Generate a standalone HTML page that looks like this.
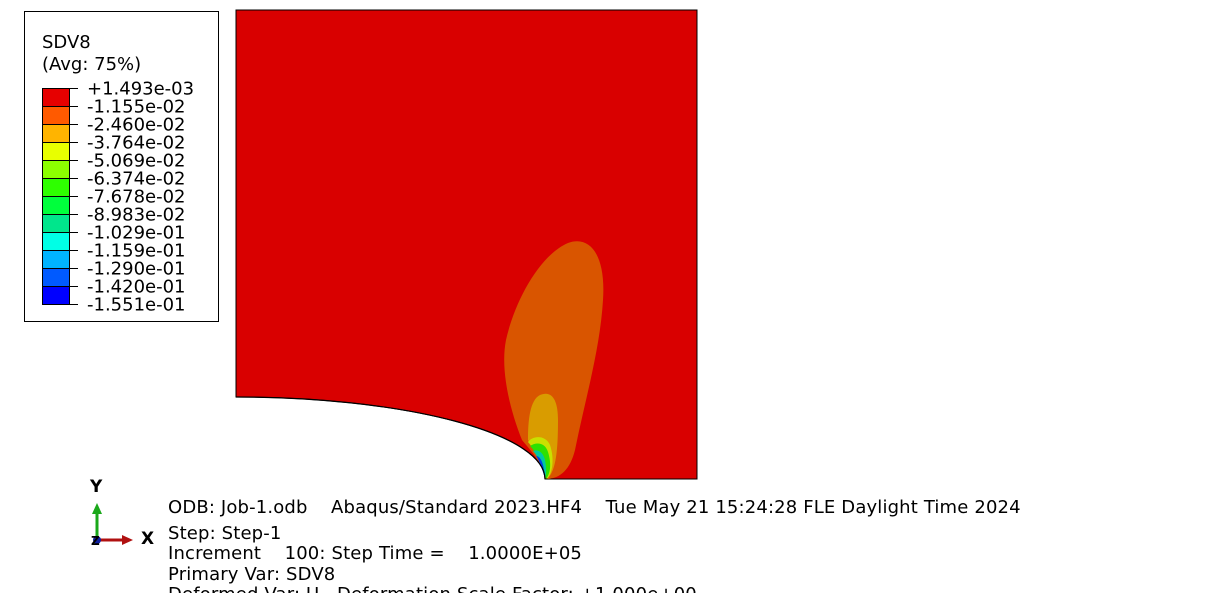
<!DOCTYPE html>
<html><head><meta charset="utf-8"><style>
body{margin:0;background:#fff;width:1224px;height:593px;overflow:hidden}
svg text{font-family:"DejaVu Sans","Liberation Sans",sans-serif;font-size:18px;fill:#000}
</style></head><body>
<svg width="1224" height="593">
<g>
<rect x="24.5" y="11.5" width="194" height="310" fill="#fff" stroke="#000"/>
<text x="42" y="48">SDV8</text>
<text x="42" y="70">(Avg: 75%)</text>
<g id="bands"></g>
</g>
<g>
<path d="M236,10 H697 V479 H545 A309,82 0 0 0 236,397 Z" fill="#d90000" stroke="#000" stroke-width="1"/>
<path d="M522,440 C510,410 500,370 506,340 C515,300 540,255 568,243 C590,235 606,255 603,300 C600,350 585,400 575,450 C570,470 560,478 548,479 C540,460 530,450 522,440 Z" fill="#d95500"/>
<path d="M528,440 C528,420 530,400 540,395 C552,390 558,400 558,420 C558,450 556,470 548,478 C540,462 535,450 528,440 Z" fill="#d99c00"/>
<path d="M528,442 C532,436 545,434 550,445 C555,460 552,474 547,479 C542,462 535,450 528,442 Z" fill="#c9e000"/>
<path d="M530,446 C536,442 545,442 548,452 C552,465 550,474 546,479 C542,464 536,452 530,446 Z" fill="#2ee000"/>
<path d="M533,451 C538,449 543,452 545,460 C547,470 546,476 545,479 C542,466 538,456 533,451 Z" fill="#00c8a0"/>
<path d="M536,456 C540,456 543,462 544,470 C545,476 545,479 545,479 C542,468 539,460 536,456 Z" fill="#0040e0"/>
<path d="M545,479 A309,82 0 0 0 236,397" fill="none" stroke="#000" stroke-width="1.2"/>
</g>
<g>
<line x1="97" y1="540" x2="97" y2="512" stroke="#1aa81a" stroke-width="3"/>
<polygon points="92,514 102,514 97,503" fill="#1aa81a"/>
<line x1="97" y1="540" x2="124" y2="540" stroke="#b01010" stroke-width="3"/>
<polygon points="122,535 122,545 133,540" fill="#b01010"/>
<circle cx="97" cy="540" r="4" fill="#1020a0"/>
<text x="90" y="492" style="font-weight:bold;font-size:17px">Y</text>
<text x="141" y="544" style="font-weight:bold;font-size:17px">X</text>
<text x="91" y="545" style="font-size:12px;font-weight:bold">Z</text>
</g>
<g style="letter-spacing:0.15px">
<text x="168" y="513" xml:space="preserve">ODB: Job-1.odb    Abaqus/Standard 2023.HF4    Tue May 21 15:24:28 FLE Daylight Time 2024</text>
<text x="168" y="539">Step: Step-1</text>
<text x="168" y="559" xml:space="preserve">Increment    100: Step Time =    1.0000E+05</text>
<text x="168" y="580">Primary Var: SDV8</text>
<text x="168" y="600" xml:space="preserve">Deformed Var: U   Deformation Scale Factor: +1.000e+00</text>
</g>
</svg>
<script>
const bandColors=["#e60000","#ff5a00","#ffb400","#e8ff00","#8cff00","#2eff00","#00ff3c","#00e68c","#00ffe6","#00b4ff","#005aff","#0000ff"];
const tickLabels=["+1.493e-03","-1.155e-02","-2.460e-02","-3.764e-02","-5.069e-02","-6.374e-02","-7.678e-02","-8.983e-02","-1.029e-01","-1.159e-01","-1.290e-01","-1.420e-01","-1.551e-01"];
const g=document.getElementById('bands');
const ns='http://www.w3.org/2000/svg';
const top0=88,h=18;
bandColors.forEach((c,i)=>{
 const r=document.createElementNS(ns,'rect');
 r.setAttribute('x',42.5);r.setAttribute('y',top0+i*h+0.5);r.setAttribute('width',27);r.setAttribute('height',h);
 r.setAttribute('fill',c);r.setAttribute('stroke','#000');
 
 
 g.appendChild(r);
});
tickLabels.forEach((t,i)=>{
 const y=top0+i*h+0.5;
 const l=document.createElementNS(ns,'line');
 l.setAttribute('x1',69);l.setAttribute('x2',78);l.setAttribute('y1',y);l.setAttribute('y2',y);l.setAttribute('stroke','#000');
 
 
 g.appendChild(l);
 const tx=document.createElementNS(ns,'text');
 tx.setAttribute('x',87);tx.setAttribute('y',y+6);tx.textContent=t;
 
 
 g.appendChild(tx);
});
</script>
</body></html>
